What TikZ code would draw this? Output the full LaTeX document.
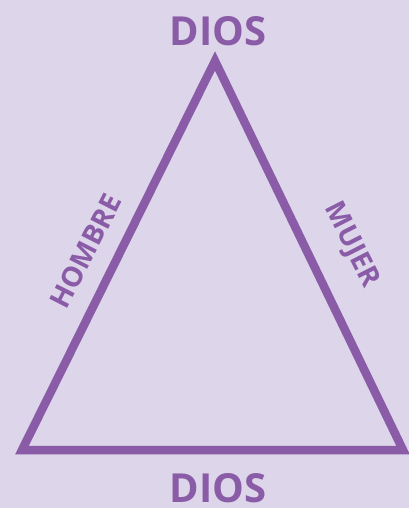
\documentclass[tikz,border=0pt]{standalone}
\usepackage{fontspec}
\setmainfont{Open Sans}
\usepackage{xcolor}
\usepackage{tikz}
\usetikzlibrary{positioning}
\definecolor{lilacbg}  {HTML}{DDD5EA}
\definecolor{violetln} {HTML}{8A5BA6}

\begin{document}
\begin{tikzpicture}[
    x=1pt, y=-1pt,
    edge/.style={draw=violetln, line width=8.5pt, line join=miter},
    bigword/.style={text=violetln, font=\fontsize{40}{40}\selectfont\bfseries, inner sep=0pt},
    sideword/.style={text=violetln, font=\fontsize{28}{28}\selectfont\bfseries, inner sep=0pt},
  ]
    \fill[lilacbg] (0,0) rectangle (409,508);
    \useasboundingbox (0,0) rectangle (409,508);

    \coordinate (apex)  at (215,61);
    \coordinate (left)  at (22,450);
    \coordinate (right) at (403,450);

    \draw[edge] (apex) -- (left) -- (right) -- cycle;

    \node[bigword] (top)    at (218,31)  {DIOS};
    \node[bigword] (bottom) at (218,488) {DIOS};
    \node[sideword, rotate=63]  (hombre) at (86,251)  {HOMBRE};
    \node[sideword, rotate=-63] (mujer)  at (351,245) {MUJER};
  \end{tikzpicture}
\end{document}
